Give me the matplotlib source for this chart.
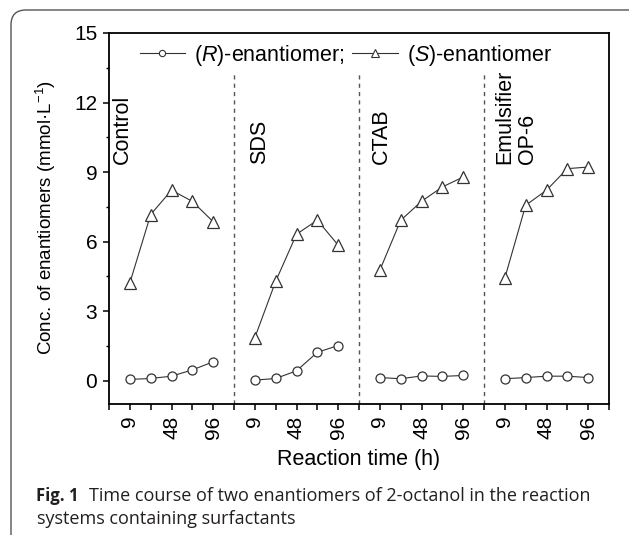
import numpy as np
import matplotlib
matplotlib.use("Agg")
import matplotlib.pyplot as plt
from matplotlib.lines import Line2D
from matplotlib.patches import FancyBboxPatch

plt.rcParams['font.family'] = ['Liberation Sans', 'DejaVu Sans']
plt.rcParams['mathtext.fontset'] = 'custom'
plt.rcParams['mathtext.rm'] = 'Liberation Sans'
plt.rcParams['mathtext.it'] = 'Liberation Sans:italic'
plt.rcParams['mathtext.default'] = 'regular'

# datos
grupos = ['Control', 'SDS', 'CTAB', 'Emulsifier\nOP-6']
tiempos = ['9', '', '48', '', '96']

r_control = [0.06, 0.10, 0.20, 0.47, 0.82]
s_control = [4.22, 7.17, 8.22, 7.74, 6.86]
r_sds = [0.03, 0.10, 0.43, 1.23, 1.52]
s_sds = [1.86, 4.29, 6.32, 6.93, 5.85]
r_ctab = [0.14, 0.09, 0.21, 0.19, 0.23]
s_ctab = [4.77, 6.92, 7.74, 8.36, 8.79]
r_op6 = [0.09, 0.14, 0.20, 0.20, 0.14]
s_op6 = [4.43, 7.57, 8.22, 9.15, 9.22]

r_series = [r_control, r_sds, r_ctab, r_op6]
s_series = [s_control, s_sds, s_ctab, s_op6]

col = '#333333'

fig = plt.figure(figsize=(6.29, 5.35), dpi=100)
ax = fig.add_axes([109/629, 1 - 404/535, 500/629, 371/535])

n = len(tiempos)
for g in range(len(grupos)):
    x = np.arange(n) + g*(n + 1)
    ax.plot(x, r_series[g], '-', color=col, lw=0.8, marker='o', ms=6.5,
            mfc='white', mec=col, mew=0.9)
    ax.plot(x, s_series[g], '-', color=col, lw=0.8, marker='^', ms=8,
            mfc='white', mec=col, mew=0.9)

# separadores
for g in range(1, len(grupos)):
    xd = g*(n + 1) - 1
    ax.plot([xd, xd], [-1, 13.3], ls=(0, (3, 3)), color='#555555', lw=1.0)

# etiquetas de grupos
pos_txt = [-0.38, 6.22, 12.07, 18.55]
for t, xp in zip(grupos, pos_txt):
    ax.text(xp, 9.35, t, rotation=90, ha='center', va='bottom',
            fontsize=15.5, multialignment='left', linespacing=1.15)

ax.set_xlim(-1, 23)
ax.set_ylim(-1, 15)
ax.set_yticks([0, 3, 6, 9, 12, 15])
ax.set_yticks(np.arange(1.5, 15, 3), minor=True)
ticks_x = np.arange(-1, 24)
ax.set_xticks(ticks_x)
etiquetas = []
for t in ticks_x:
    if t < 0 or t % (n + 1) == n:
        etiquetas.append('')
    else:
        etiquetas.append(tiempos[t % (n + 1)])
ax.set_xticklabels(etiquetas, rotation=90)

ax.tick_params(axis='both', which='major', direction='out', length=4,
               width=1.1, labelsize=15, pad=4.5, colors='black')
ax.tick_params(axis='y', which='minor', direction='out', length=2.5, width=1.0)
for s in ax.spines.values():
    s.set_linewidth(1.3)

# leyenda
h_r = Line2D([], [], color=col, lw=0.8, marker='o', ms=4.5, mfc='white', mec=col, mew=0.8)
h_s = Line2D([], [], color=col, lw=0.8, marker='^', ms=5.5, mfc='white', mec=col, mew=0.8)
ax.legend([h_r, h_s], ['($\\it{R}$)-enantiomer;', '($\\it{S}$)-enantiomer'],
          ncol=2, loc='center', bbox_to_anchor=(0.474, 0.94), frameon=False,
          fontsize=15.5, handlelength=2.1, handletextpad=0.45, columnspacing=0.35,
          borderpad=0, borderaxespad=0)

fig.text(46/629, 1 - 218/535, 'Conc. of enantiomers (mmol·L$^{-1}$)',
         rotation=90, ha='center', va='center', fontsize=13.5)
fig.text(359/629, 1 - 460/535, 'Reaction time (h)', ha='center', va='center',
         fontsize=15.5)

# pie de figura
fig.text(36/629, 1 - 501/535, 'Fig. 1', family='Open Sans', weight='bold',
         fontsize=12, color='#231f20', va='baseline')
fig.text(89/629, 1 - 501/535,
         'Time course of two enantiomers of 2-octanol in the reaction',
         family='Open Sans', fontsize=13, color='#231f20', va='baseline')
fig.text(37/629, 1 - 524/535, 'systems containing surfactants',
         family='Open Sans', fontsize=13, color='#231f20', va='baseline')

caja = FancyBboxPatch((0.11, -0.3), 6.4, 5.55, boxstyle='round,pad=0,rounding_size=0.15',
                      transform=fig.dpi_scale_trans, fill=False, ec='#555555', lw=1.0)
fig.patches.append(caja)

fig.savefig('out.png', dpi=100)
